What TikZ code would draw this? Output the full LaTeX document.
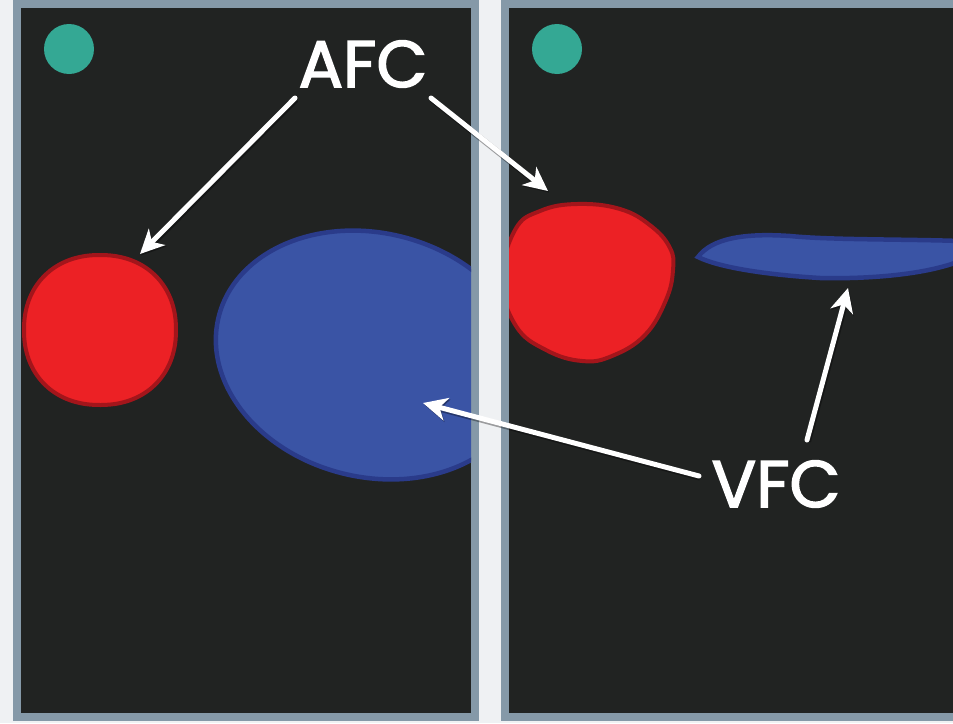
\documentclass[tikz,border=0pt]{standalone}
\usepackage{fontspec}
\newfontfamily\labelfont{Poppins}[FakeBold=2.2]
\usetikzlibrary{arrows.meta}

\definecolor{pagebg}{HTML}{EFF1F3}
\definecolor{frame}{HTML}{8599A8}
\definecolor{screen}{HTML}{212322}
\definecolor{marker}{HTML}{34A894}
\definecolor{redfill}{HTML}{EC2125}
\definecolor{redline}{HTML}{A3151B}
\definecolor{bluefill}{HTML}{3A54A5}
\definecolor{blueline}{HTML}{2A3B8A}

\tikzset{
  panelframe/.style={fill=frame},
  panelscreen/.style={fill=screen},
  dot/.style={fill=marker},
  redblob/.style={fill=redfill, draw=redline, line width=4pt},
  blueblob/.style={fill=bluefill, draw=blueline, line width=4.5pt},
  pointer/.style={draw=white, line width=5pt, line cap=round,
    -{Stealth[length=24pt, width=23pt, inset=7pt]},
    preaction={draw=black, draw opacity=0.35, line width=6pt,
      transform canvas={shift={(1pt,-1.5pt)}}}},
  tag/.style={text=white, font=\labelfont\fontsize{66}{66}\selectfont, inner sep=0pt}
}

\begin{document}
\begin{tikzpicture}[x=1pt, y=-1pt]
\useasboundingbox (0,0) rectangle (953,723);
\fill[pagebg] (0,0) rectangle (953,723);

% left panel
\fill[panelframe] (13,-5) rectangle (479,721);
\fill[panelscreen] (21,8) rectangle (471,713);
\fill[dot] (69,49) circle[radius=25];
\begin{scope}
  \clip (21,8) rectangle (471,713);
  \draw[blueblob, rotate around={-14:(372,355)}]
    (372,355) ellipse[x radius=158, y radius=122];
  % slightly squared disc (superellipse)
  \draw[redblob] plot[domain=2.5:362.5, samples=72, smooth cycle, variable=\t]
    ({100+76*sign(cos(\t))*pow(abs(cos(\t)),0.92)},
     {330+75*sign(sin(\t))*pow(abs(sin(\t)),0.92)});
\end{scope}

% right panel
\fill[panelframe] (501,-5) rectangle (960,721);
\fill[panelscreen] (509,8) rectangle (960,713);
\fill[dot] (557,49) circle[radius=25];
\begin{scope}
  \clip (509,8) rectangle (960,713);
  \draw[redblob] plot[smooth cycle, tension=0.7] coordinates {
    (502,280) (515,230) (540,211) (577,204) (620,209) (651,226)
    (670,248) (673,270) (666,300) (645,335) (612,356) (582,361) (546,350) (516,326)};
  \draw[blueblob]
    (698,257) .. controls (712,238) and (745,233) .. (790,236)
    .. controls (830,240) and (900,239) .. (960,241)
    .. controls (985,243) and (975,258) .. (945,266)
    .. controls (910,276) and (860,279) .. (820,278)
    .. controls (770,275) and (720,268) .. (698,257) -- cycle;
\end{scope}

% labels and pointers
\node[tag] (afc) at (363,64) {AFC};
\node[tag] (vfc) at (776,484) {VFC};

\coordinate (afcL) at (295,98);
\coordinate (afcR) at (431,98);
\coordinate (vfcL) at (699,476);
\coordinate (vfcU) at (807,440);
\coordinate (redL) at (140,254);
\coordinate (redR) at (548,191);
\coordinate (blueL) at (423,403);
\coordinate (blueR) at (848,288);

\draw[pointer] (afcL) -- (redL);
\draw[pointer] (afcR) -- (redR);
\draw[pointer] (vfcL) -- (blueL);
\draw[pointer] (vfcU) -- (blueR);
\end{tikzpicture}
\end{document}
